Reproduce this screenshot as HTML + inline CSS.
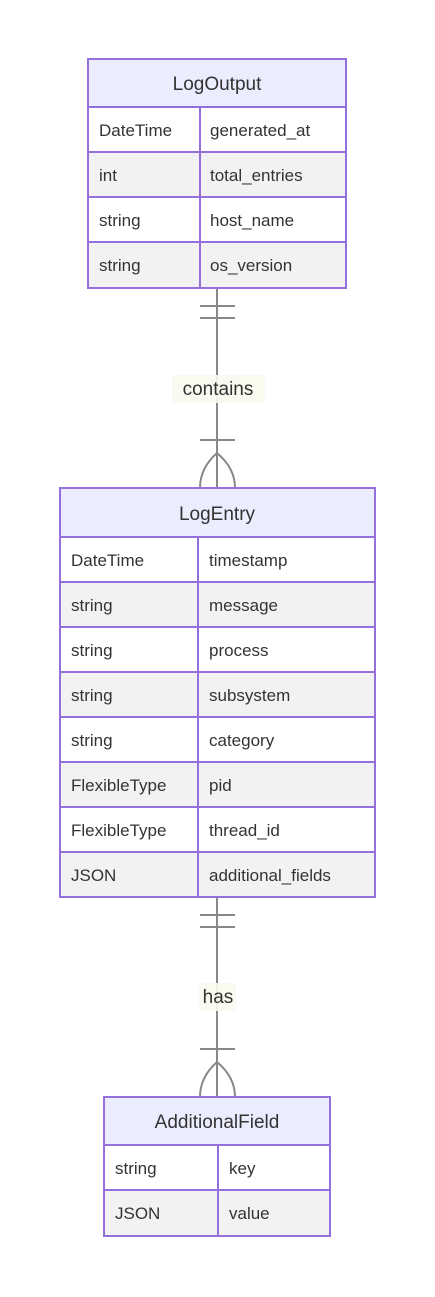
<!DOCTYPE html>
<html><head><style>body{margin:0;background:#fff}svg{display:block}text{font-family:"Liberation Sans","DejaVu Sans",sans-serif;fill:#333}</style></head>
<body>
<svg width="435" height="1297" xmlns="http://www.w3.org/2000/svg">
<g stroke="#888" stroke-width="2" fill="none">
<line x1="217" y1="288" x2="217" y2="488"/>
<line x1="200" y1="306" x2="235" y2="306"/><line x1="200" y1="318" x2="235" y2="318"/>
<line x1="200" y1="440" x2="235" y2="440"/>
<path d="M200 488 Q200 468 217 453 Q235 468 235 488"/>
<line x1="217" y1="897" x2="217" y2="1097"/>
<line x1="200" y1="915" x2="235" y2="915"/><line x1="200" y1="927" x2="235" y2="927"/>
<line x1="200" y1="1049" x2="235" y2="1049"/>
<path d="M200 1097 Q200 1077 217 1062 Q235 1077 235 1097"/>
</g>
<rect x="172" y="375" width="93" height="28" fill="#f8fbef" opacity="0.9"/>
<text x="218" y="395" font-size="19" text-anchor="middle">contains</text>
<rect x="199" y="983" width="37" height="28" fill="#f8fbef" opacity="0.9"/>
<text x="218" y="1003" font-size="19" text-anchor="middle">has</text>

<!-- LogOutput -->
<g>
<rect x="88" y="59" width="258" height="48" fill="#ececff"/>
<rect x="88" y="107" width="258" height="45" fill="#fff"/>
<rect x="88" y="152" width="258" height="45" fill="#f2f2f2"/>
<rect x="88" y="197" width="258" height="45" fill="#fff"/>
<rect x="88" y="242" width="258" height="46" fill="#f2f2f2"/>
<g stroke="#9370db" stroke-width="2" fill="none">
<rect x="88" y="59" width="258" height="229"/>
<line x1="88" y1="107" x2="346" y2="107"/><line x1="88" y1="152" x2="346" y2="152"/>
<line x1="88" y1="197" x2="346" y2="197"/><line x1="88" y1="242" x2="346" y2="242"/>
<line x1="200" y1="107" x2="200" y2="288"/>
</g>
<text x="217" y="90" font-size="19" text-anchor="middle">LogOutput</text>
<g font-size="17"><text x="99" y="136">DateTime</text><text x="210" y="136">generated_at</text>
<text x="99" y="181">int</text><text x="210" y="181">total_entries</text>
<text x="99" y="226">string</text><text x="210" y="226">host_name</text>
<text x="99" y="271">string</text><text x="210" y="271">os_version</text></g>
</g>

<!-- LogEntry -->
<g>
<rect x="60" y="488" width="315" height="49" fill="#ececff"/>
<rect x="60" y="537" width="315" height="360" fill="#fff"/>
<rect x="60" y="582" width="315" height="45" fill="#f2f2f2"/>
<rect x="60" y="672" width="315" height="45" fill="#f2f2f2"/>
<rect x="60" y="762" width="315" height="45" fill="#f2f2f2"/>
<rect x="60" y="852" width="315" height="45" fill="#f2f2f2"/>
<g stroke="#9370db" stroke-width="2" fill="none">
<rect x="60" y="488" width="315" height="409"/>
<path d="M60 537H375M60 582H375M60 627H375M60 672H375M60 717H375M60 762H375M60 807H375M60 852H375"/>
<line x1="198" y1="537" x2="198" y2="897"/>
</g>
<text x="217" y="520" font-size="19" text-anchor="middle">LogEntry</text>
<g font-size="17">
<text x="71" y="566">DateTime</text><text x="209" y="566">timestamp</text>
<text x="71" y="611">string</text><text x="209" y="611">message</text>
<text x="71" y="656">string</text><text x="209" y="656">process</text>
<text x="71" y="701">string</text><text x="209" y="701">subsystem</text>
<text x="71" y="746">string</text><text x="209" y="746">category</text>
<text x="71" y="791">FlexibleType</text><text x="209" y="791">pid</text>
<text x="71" y="836">FlexibleType</text><text x="209" y="836">thread_id</text>
<text x="71" y="881">JSON</text><text x="209" y="881">additional_fields</text>
</g>
</g>

<!-- AdditionalField -->
<g>
<rect x="104" y="1097" width="226" height="48" fill="#ececff"/>
<rect x="104" y="1145" width="226" height="45" fill="#fff"/>
<rect x="104" y="1190" width="226" height="46" fill="#f2f2f2"/>
<g stroke="#9370db" stroke-width="2" fill="none">
<rect x="104" y="1097" width="226" height="139"/>
<line x1="104" y1="1145" x2="330" y2="1145"/><line x1="104" y1="1190" x2="330" y2="1190"/>
<line x1="218" y1="1145" x2="218" y2="1236"/>
</g>
<text x="217" y="1128" font-size="19" text-anchor="middle">AdditionalField</text>
<g font-size="17"><text x="115" y="1174">string</text><text x="229" y="1174">key</text>
<text x="115" y="1219">JSON</text><text x="229" y="1219">value</text></g>
</g>
</svg>
</body></html>
